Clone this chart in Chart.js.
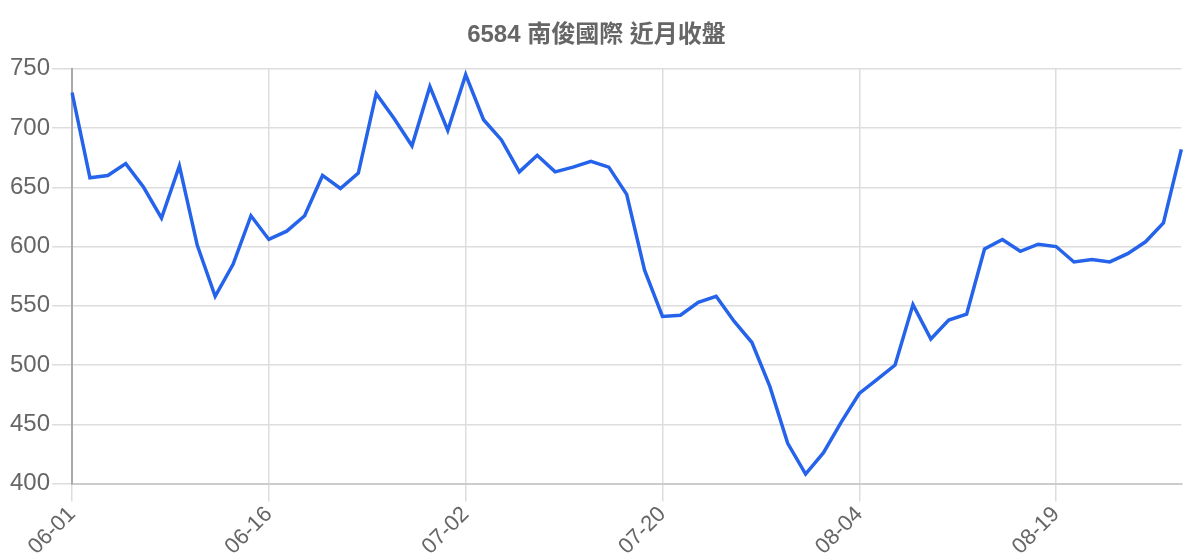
<!DOCTYPE html>
<html>
<head>
<meta charset="utf-8">
<script src="https://cdn.jsdelivr.net/npm/chart.js@4"></script>
<style>
  html, body { margin: 0; padding: 0; background: #fff; }
  #wrap { width: 1200px; height: 560px; }
</style>
</head>
<body>
<div id="wrap"><canvas id="closeChart"></canvas></div>
<script>
const chartTitle = '6584 南俊國際 近月收盤';

// trading days (mm-dd)
const dates = [
  '06-01', '06-02', '06-03', '06-04', '06-05', '06-08', '06-09', '06-10', '06-11', '06-12', '06-15',
  '06-16', '06-17', '06-18', '06-19', '06-20', '06-22', '06-23', '06-24', '06-29', '06-30', '07-01',
  '07-02', '07-03', '07-06', '07-07', '07-08', '07-09', '07-10', '07-13', '07-14', '07-15', '07-16',
  '07-20', '07-21', '07-22', '07-23', '07-24', '07-27', '07-28', '07-29', '07-30', '07-31', '08-03',
  '08-04', '08-05', '08-06', '08-07', '08-10', '08-11', '08-12', '08-13', '08-14', '08-17', '08-18',
  '08-19', '08-20', '08-21', '08-24', '08-25', '08-26', '08-27', '08-28'
];

// closing prices
const closes = [
  730, 658, 660, 670, 650, 624, 668, 601, 558, 585, 626,
  606, 613, 626, 660, 649, 662, 729, 708, 685, 735, 698,
  745, 707, 690, 663, 677, 663, 667, 672, 667, 644, 580,
  541, 542, 553, 558, 537, 519, 482, 434, 408, 426, 452,
  476, 488, 500, 551, 522, 538, 543, 598, 606, 596, 602,
  600, 587, 589, 587, 594, 604, 620, 682
];

const yMin = 400;
const yMax = 750;
const yStep = 50;
const labelEvery = 11; // only every 11th date gets a label + grid line

const fontFamily = "'Helvetica Neue', Helvetica, Arial, 'Noto Sans CJK TC', sans-serif";

const ctx = document.getElementById('closeChart').getContext('2d');
const chart = new Chart(ctx, {
  type: 'line',
  data: {
    labels: dates,
    datasets: [{
      label: '收盤',
      data: closes,
      borderColor: '#2563eb',
      borderWidth: 3.5,
      pointRadius: 0,
      tension: 0,
      fill: false
    }]
  },
  options: {
    responsive: true,
    maintainAspectRatio: false,
    animation: false,
    layout: {
      padding: { left: 8, right: 15, top: 0, bottom: 0 }
    },
    plugins: {
      legend: { display: false },
      tooltip: { enabled: false },
      title: {
        display: true,
        text: chartTitle,
        color: '#666',
        font: { family: fontFamily, size: 24, weight: 'bold' },
        padding: { top: 21, bottom: 19 }
      }
    },
    scales: {
      x: {
        border: { color: '#cccccc', width: 2 },
        grid: {
          color: (c) => (c.index % labelEvery === 0 ? '#dddddd' : 'transparent'),
          lineWidth: 1.5,
          tickLength: 18
        },
        ticks: {
          autoSkip: false,
          minRotation: 45,
          maxRotation: 45,
          padding: 0,
          color: '#666',
          font: { family: fontFamily, size: 22 },
          callback: function (value, index) {
            return index % labelEvery === 0 ? this.getLabelForValue(value) : '';
          }
        }
      },
      y: {
        min: yMin,
        max: yMax,
        border: { color: '#aaaaaa', width: 2 },
        grid: { color: '#dddddd', lineWidth: 1.5, tickLength: 20 },
        ticks: {
          stepSize: yStep,
          padding: 2,
          color: '#666',
          font: { family: fontFamily, size: 24 }
        }
      }
    }
  }
});
</script>
</body>
</html>
